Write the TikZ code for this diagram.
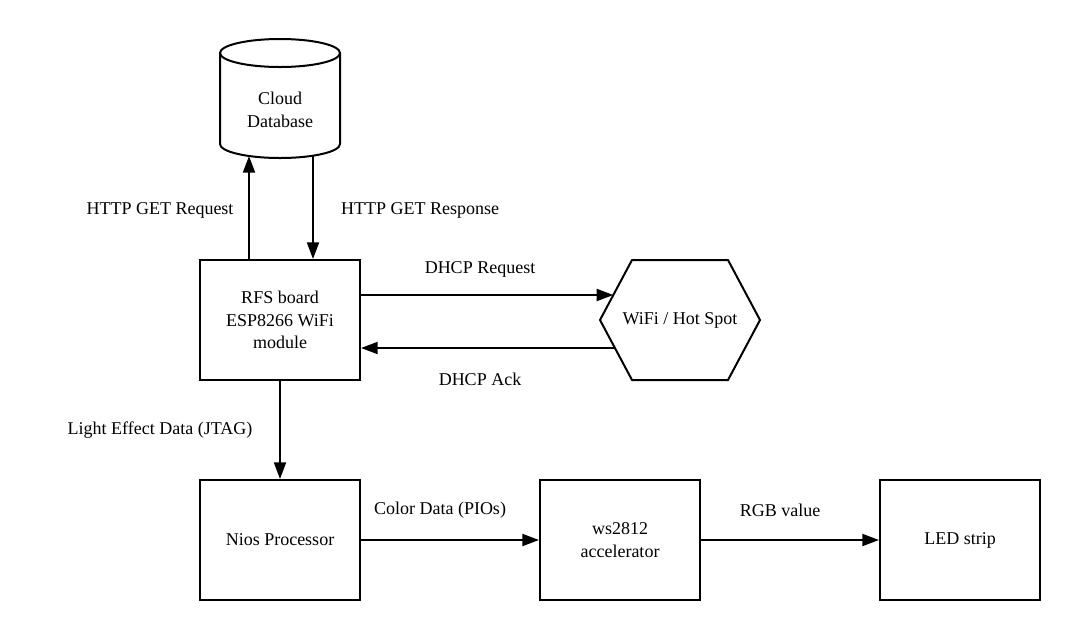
\documentclass[tikz,border=0pt]{standalone}
\usepackage{fontspec}
\setmainfont{Liberation Serif}
\usetikzlibrary{arrows.meta}
\newcommand\dfont{\fontsize{13.5}{16.9}\selectfont}
\begin{document}
\begin{tikzpicture}[x=0.75pt,y=-0.75pt,
  outline/.style={line width=1.5pt, line join=miter},
  box/.style={draw, outline, minimum width=120pt, minimum height=90pt, align=center, inner sep=0pt, font=\dfont},
  ghost/.style={minimum width=120pt, minimum height=90pt, align=center, inner sep=0pt, font=\dfont},
  lbl/.style={font=\dfont, inner sep=0pt, anchor=center},
  arr/.style={line width=1.5pt, -{Triangle[length=12.5pt,width=9pt]}}]
\useasboundingbox[fill=white] (0,0) rectangle (1080,640);

% cloud database (cylinder)
\node[ghost] (db) at (280,110) {Cloud\\Database};
\draw[outline] (280,53) ellipse [x radius=45pt, y radius=10.5pt];
\draw[outline] (220,53) -- (220,144) arc[start angle=180, end angle=360, x radius=45pt, y radius=10.5pt] -- (340,53);
\coordinate (dbup) at (249,156);
\coordinate (dbdn) at (313,155.7);

% boxes
\node[box] (rfs) at (280,320) {RFS board\\ESP8266 WiFi\\module};
\node[box] (nios) at (280,540) {Nios Processor};
\node[box] (ws) at (620,540) {ws2812\\accelerator};
\node[box] (led) at (960,540) {LED strip};

% hexagon
\node[ghost, minimum width=120pt] (wifi) at (680,320) {WiFi / Hot Spot};
\draw[outline] (600,320) -- (632,260) -- (728,260) -- (760,320) -- (728,380) -- (632,380) -- cycle;
\coordinate (rq) at (613.3,295);
\coordinate (ak) at (614.9,348);

% connectors
\draw[arr] (dbup |- rfs.north) -- (dbup);
\draw[arr] (dbdn) -- (dbdn |- rfs.north);
\draw[arr] (rq -| rfs.east) -- (rq);
\draw[arr] (ak) -- (ak -| rfs.east);
\draw[arr] (rfs.south) -- (nios.north);
\draw[arr] (nios.east) -- (ws.west);
\draw[arr] (ws.east) -- (led.west);

% labels
\node[lbl] (l1) at (160,210) {HTTP GET Request};
\node[lbl] (l2) at (420,210) {HTTP GET Response};
\node[lbl] (l3) at (480,269) {DHCP Request};
\node[lbl] (l4) at (480,379) {DHCP Ack};
\node[lbl] (l5) at (160,430) {Light Effect Data (JTAG)};
\node[lbl] (l6) at (440,510) {Color Data (PIOs)};
\node[lbl] (l7) at (780,510) {RGB value};
\end{tikzpicture}
\end{document}
